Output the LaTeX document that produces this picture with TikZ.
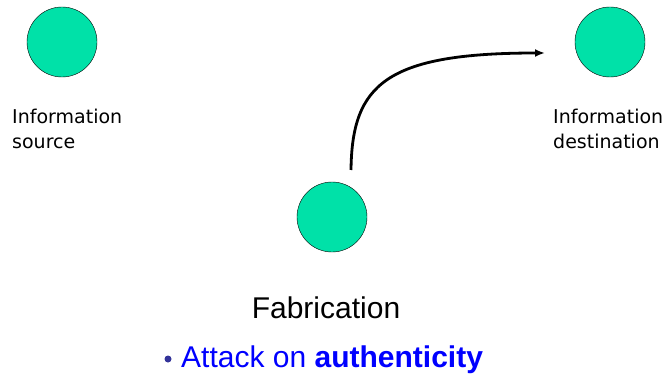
\documentclass[tikz,border=0pt]{standalone}
\usepackage{fontspec}
\setmainfont{Liberation Sans}
\newfontfamily\labelfont{DejaVu Sans}
\usepackage{tikz}
\usetikzlibrary{arrows.meta,positioning}
\definecolor{party}{RGB}{0,225,168}
\definecolor{attackblue}{RGB}{0,0,255}
\definecolor{bulletblue}{RGB}{51,51,153}
\tikzset{
  station/.style={circle, draw=black, fill=party, minimum size=70pt, inner sep=0pt},
  stationlabel/.style={anchor=north west, align=left, inner sep=0pt, font=\labelfont\fontsize{19}{24.5}\selectfont}
}

\begin{document}
\begin{tikzpicture}[x=1pt,y=-1pt]
  \useasboundingbox (0,0) rectangle (663,374);

  \node[station] (source) at (62,42) {};
  \node[station] (dest) at (610,42) {};
  \node[station] (fake) at (332,217) {};

  \node[stationlabel] (sourcelabel) at (12,109) {Information\\source};
  \node[stationlabel] (destlabel) at (553,109) {Information\\destination};

  \coordinate (tail) at (351,170);
  \coordinate (head) at (545,53);
  \draw[line width=2.8pt, -{Latex[length=10pt,width=8pt]}] (tail) .. controls (352,85) and (385,53) .. (head);

  \node[anchor=base, inner sep=0pt, font=\fontsize{30}{34}\selectfont] (fabrication) at (326,318) {Fabrication};
  \node[circle, fill=bulletblue, inner sep=0pt, minimum size=7pt] (bullet) at (168,359) {};
  \node[anchor=base west, inner sep=0pt, text=attackblue, font=\fontsize{30}{34}\selectfont] (attack) at (181,367) {Attack on \textbf{authenticity}};
\end{tikzpicture}
\end{document}
